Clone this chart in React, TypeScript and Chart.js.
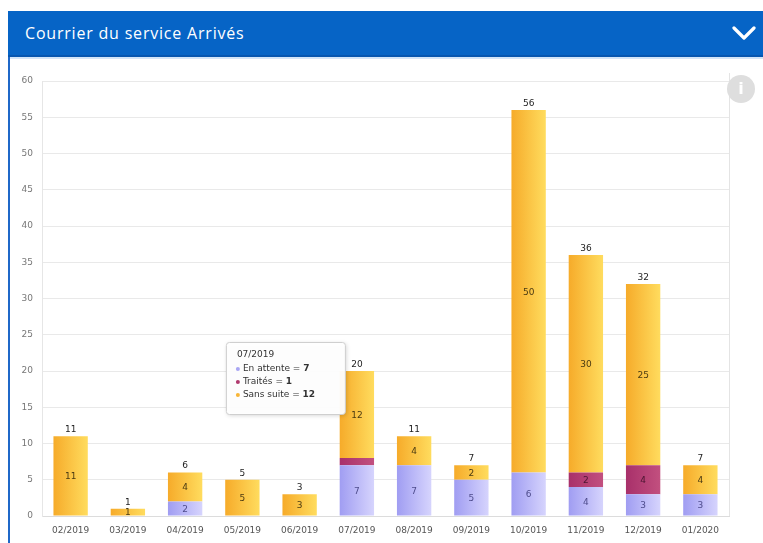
import React, { useEffect, useRef } from "react";
import { Chart, registerables } from "chart.js";
Chart.register(...registerables);

const title = "Courrier du service Arrivés";
const months = ["02/2019", "03/2019", "04/2019", "05/2019", "06/2019", "07/2019", "08/2019", "09/2019", "10/2019", "11/2019", "12/2019", "01/2020"];
const seriesNames = ["En attente", "Traités", "Sans suite"];
const enAttente = [0, 0, 2, 0, 0, 7, 7, 5, 6, 4, 3, 3];
const traites = [0, 0, 0, 0, 0, 1, 0, 0, 0, 2, 4, 0];
const sansSuite = [11, 1, 4, 5, 3, 12, 4, 2, 50, 30, 25, 4];
const yMax = 60;
const yStep = 5;
const tooltipIndex = 5;

const gradients: [string, string][] = [
  ["#a09df2", "#d6d4fd"],
  ["#a8306a", "#c2507f"],
  ["#f6ab2a", "#ffdc5e"],
];
const labelColors = ["#4e4c8c", "#4a1530", "#4a3a12"];
const minLabelHeight = [0, 8, 0];
const bulletColors = ["#a9a6f4", "#b03a6e", "#f8b638"];

const FONT = '"DejaVu Sans", Verdana, sans-serif';
const BAR_PCT = 0.6;

function makeBg(di: number) {
  return (c: any) => {
    const chart = c.chart;
    const xs = chart.scales && chart.scales.x;
    if (!xs || c.dataIndex === undefined) return gradients[di][0];
    const x = xs.getPixelForValue(c.dataIndex);
    const w = (xs.width / months.length) * BAR_PCT;
    if (!isFinite(x) || !isFinite(w) || w <= 0) return gradients[di][0];
    const g = chart.ctx.createLinearGradient(x - w / 2, 0, x + w / 2, 0);
    g.addColorStop(0, gradients[di][0]);
    g.addColorStop(1, gradients[di][1]);
    return g;
  };
}

const valuePlugin = {
  id: "valueLabels",
  afterDatasetsDraw(chart: any) {
    const ctx = chart.ctx;
    ctx.save();
    ctx.font = "9px " + FONT;
    ctx.textAlign = "center";
    ctx.textBaseline = "middle";
    const n = chart.data.labels.length;
    const tops: number[] = new Array(n).fill(Infinity);
    const xs: number[] = new Array(n).fill(0);
    const totals: number[] = new Array(n).fill(0);
    chart.data.datasets.forEach((ds: any, di: number) => {
      const meta = chart.getDatasetMeta(di);
      meta.data.forEach((el: any, i: number) => {
        const v = ds.data[i];
        xs[i] = el.x;
        if (!v) return;
        totals[i] += v;
        tops[i] = Math.min(tops[i], el.y);
        if (Math.abs(el.base - el.y) < minLabelHeight[di]) return;
        ctx.fillStyle = labelColors[di];
        ctx.fillText(String(v), el.x, (el.y + el.base) / 2 + 1);
      });
    });
    ctx.textBaseline = "bottom";
    ctx.fillStyle = "#222";
    for (let i = 0; i < n; i++) {
      if (tops[i] === Infinity) continue;
      ctx.fillText(String(totals[i]), xs[i], tops[i] - 2);
    }
    const a = chart.chartArea;
    ctx.strokeStyle = "#e4e4e4";
    ctx.lineWidth = 1;
    ctx.beginPath();
    ctx.moveTo(Math.round(a.right) + 0.5, a.top - 8);
    ctx.lineTo(Math.round(a.right) + 0.5, a.bottom);
    ctx.stroke();
    ctx.restore();
  },
  afterDraw(chart: any) {
    const ctx = chart.ctx;
    const xs = chart.scales.x;
    const ys = chart.scales.y;
    const i = tooltipIndex;
    const cx = xs.getPixelForValue(i);
    const w = 119;
    const h = 72;
    const right = cx - 12;
    const left = right - w;
    const top = ys.getPixelForValue(24);
    ctx.save();
    ctx.shadowColor = "rgba(0,0,0,0.18)";
    ctx.shadowBlur = 4;
    ctx.shadowOffsetX = 1;
    ctx.shadowOffsetY = 1;
    ctx.fillStyle = "rgba(255,255,255,0.95)";
    ctx.beginPath();
    ctx.roundRect(left + 0.5, top + 0.5, w, h, 3);
    ctx.fill();
    ctx.shadowColor = "transparent";
    ctx.strokeStyle = "#cfcfcf";
    ctx.lineWidth = 1;
    ctx.stroke();
    ctx.textBaseline = "middle";
    ctx.textAlign = "left";
    ctx.fillStyle = "#333";
    ctx.font = "9px " + FONT;
    ctx.fillText(months[i], left + 11, top + 13);
    const vals = [enAttente[i], traites[i], sansSuite[i]];
    vals.forEach((v, k) => {
      const yy = top + 27 + k * 13;
      ctx.fillStyle = bulletColors[k];
      ctx.beginPath();
      ctx.arc(left + 12, yy, 2, 0, Math.PI * 2);
      ctx.fill();
      ctx.fillStyle = "#333";
      ctx.font = "9px " + FONT;
      const label = seriesNames[k] + " = ";
      ctx.fillText(label, left + 17, yy);
      const lw = ctx.measureText(label).width;
      ctx.font = "bold 9px " + FONT;
      ctx.fillText(String(v), left + 17 + lw, yy);
    });
    ctx.restore();
  },
};

export default function App() {
  const ref = useRef<HTMLCanvasElement>(null);
  useEffect(() => {
    if (!ref.current) return;
    const chart = new Chart(ref.current, {
      type: "bar",
      data: {
        labels: months,
        datasets: [
          { label: seriesNames[0], data: enAttente, backgroundColor: makeBg(0) as any, barPercentage: BAR_PCT, categoryPercentage: 1 },
          { label: seriesNames[1], data: traites, backgroundColor: makeBg(1) as any, barPercentage: BAR_PCT, categoryPercentage: 1 },
          { label: seriesNames[2], data: sansSuite, backgroundColor: makeBg(2) as any, barPercentage: BAR_PCT, categoryPercentage: 1 },
        ],
      },
      options: {
        responsive: false,
        animation: false,
        devicePixelRatio: 1,
        layout: { padding: { top: 19, right: 6, left: 0, bottom: 0 } },
        plugins: { legend: { display: false }, tooltip: { enabled: false } },
        events: [],
        scales: {
          x: {
            stacked: true,
            grid: { display: false, drawTicks: false },
            border: { display: true, color: "#dcdcdc" },
            ticks: { font: { family: FONT, size: 9 }, color: "#555", padding: 9, autoSkip: false, maxRotation: 0 },
            afterFit: (s: any) => { s.height = 27; },
          },
          y: {
            stacked: true,
            min: 0,
            max: yMax,
            grid: { color: "#e9e9e9", drawTicks: false },
            border: { display: true, color: "#e6e6e6" },
            ticks: { stepSize: yStep, font: { family: FONT, size: 9 }, color: "#777", padding: 9 },
            afterFit: (s: any) => { s.width = 32; },
          },
        },
      },
      plugins: [valuePlugin],
    });
    return () => chart.destroy();
  }, []);

  return (
    <div style={{ position: "absolute", left: 0, top: 0, width: 763, height: 543, overflow: "hidden", background: "#fff" }}>
      <div style={{ position: "absolute", left: 8, top: 11, width: 755, height: 532, borderLeft: "2px solid #1f68c8", boxSizing: "border-box" }} />
      <div style={{ position: "absolute", left: 8, top: 11, width: 755, height: 46, background: "#0664c6", borderBottom: "2px solid #0656b0", boxSizing: "border-box" }}>
        <div style={{ position: "absolute", left: 17, top: 0, height: 44, lineHeight: "44px", color: "#fff", fontFamily: '"Open Sans", sans-serif', fontSize: 16, letterSpacing: "0.8px", whiteSpace: "nowrap" }}>{title}</div>
        <svg width="24" height="16" style={{ position: "absolute", left: 724, top: 14 }}>
          <polyline points="2,3 12,13 22,3" fill="none" stroke="#fff" strokeWidth="3.2" strokeLinecap="round" strokeLinejoin="round" />
        </svg>
      </div>
      <div style={{ position: "absolute", left: 10, top: 57, width: 753, height: 2, background: "#d3e5f8" }} />
      <canvas ref={ref} width={725} height={481} style={{ position: "absolute", left: 10, top: 62, width: 725, height: 481, display: "block" }} />
      <div style={{ position: "absolute", left: 727, top: 75, width: 28, height: 28, borderRadius: "50%", background: "#dedede", color: "#fff", fontFamily: '"DejaVu Sans", sans-serif', fontWeight: "bold", fontSize: 16, lineHeight: "28px", textAlign: "center" }}>i</div>
    </div>
  );
}
